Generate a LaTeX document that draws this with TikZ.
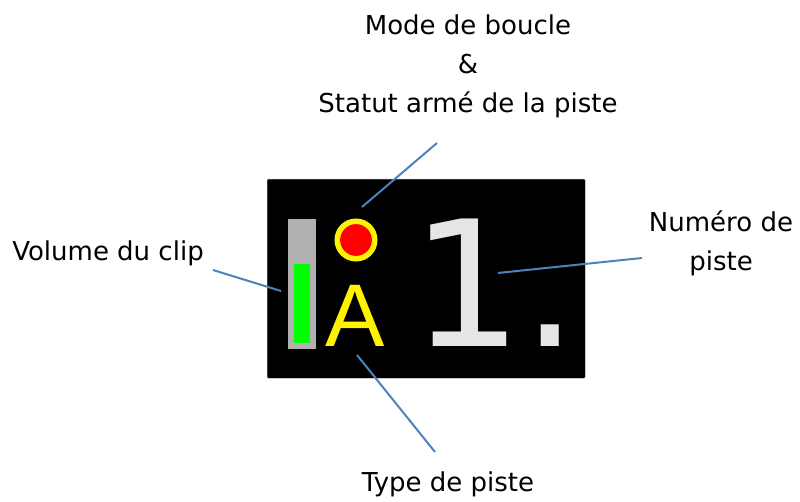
\documentclass[tikz,border=0pt]{standalone}
\usepackage{fontspec}
\setmainfont{DejaVu Sans}
\newfontfamily\arialfont{Liberation Sans}
\definecolor{PtrBlue}{RGB}{79,129,189}
\definecolor{BarGray}{RGB}{176,176,176}
\definecolor{DigitGray}{RGB}{230,230,230}
\usetikzlibrary{positioning}
\tikzset{
  lbl/.style={font=\fontsize{26}{39}\selectfont, align=center, inner sep=0pt},
  ptr/.style={PtrBlue, line width=2pt},
  box/.style={inner sep=0pt, anchor=north west},
}

\begin{document}
\begin{tikzpicture}[x=1pt,y=-1pt]
        \useasboundingbox (0,0) rectangle (800,502);
        % track display
        \node[box, fill=black, draw=gray!70, rounded corners=1pt, minimum width=318pt, minimum height=199pt] (disp) at (267,179) {};
        \node[box, fill=BarGray, minimum width=28pt, minimum height=130pt] (vol) at (288,219) {};
        \node[box, fill=green, minimum width=16pt, minimum height=79pt] (level) at (294,264) {};
        \node[circle, fill=red, draw=yellow, line width=5.5pt, minimum size=37.5pt, inner sep=0pt] (arm) at (356,240) {};
        \node[text=yellow, font=\arialfont\fontsize{89}{89}\selectfont, inner sep=0pt, anchor=base] (type) at (355.5,347) {A};
        \node[text=DigitGray, font=\fontsize{175}{175}\selectfont, inner sep=0pt, anchor=base west] (num) at (411,347) {1.};
        % labels
        \node[lbl] (loop) at (468,66) {Mode de boucle\\\&\\Statut armé de la piste};
        \node[lbl] (clipvol) at (108,253) {Volume du clip};
        \node[lbl] (numlbl) at (721,243) {Numéro de\\piste};
        \node[lbl] (typelbl) at (448,484) {Type de piste};
        % pointers
        \coordinate (loop-a) at (437,143);
        \coordinate (loop-b) at (362,207);
        \coordinate (vol-a) at (213,270);
        \coordinate (vol-b) at (281,291);
        \coordinate (num-a) at (642,258);
        \coordinate (num-b) at (498,273);
        \coordinate (type-a) at (435,452);
        \coordinate (type-b) at (357,355);
        \draw[ptr] (loop-a) -- (loop-b);
        \draw[ptr] (vol-a) -- (vol-b);
        \draw[ptr] (num-a) -- (num-b);
        \draw[ptr] (type-a) -- (type-b);
\end{tikzpicture}
\end{document}
